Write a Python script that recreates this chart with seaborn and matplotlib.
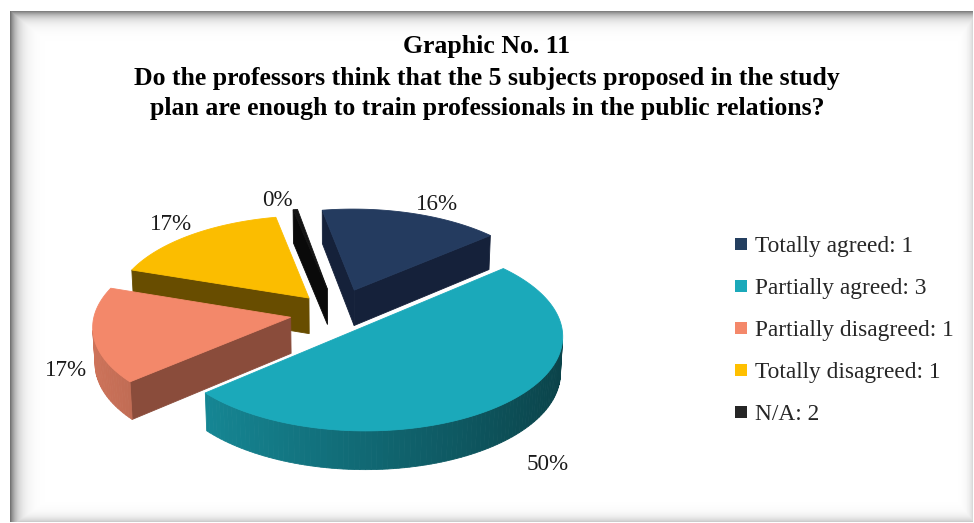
import numpy as np
import matplotlib
matplotlib.use("Agg")
import matplotlib.pyplot as plt
from matplotlib.lines import Line2D
import seaborn as sns

# ---- data -------------------------------------------------------------
categories = ["Totally agreed", "Partially agreed", "Partially disagreed",
              "Totally disagreed", "N/A"]
counts = [1, 3, 1, 1, 2]
shares = [16.4, 50.0, 16.6, 16.6, 0.4]          # percent of the pie
title_lines = [
    "Graphic No. 11",
    "Do the professors think that the 5 subjects proposed in the study",
    "plan are enough to train professionals in the public relations?",
]

# ---- style ------------------------------------------------------------
top_colors = ["#243B5F", "#1BA9BA", "#F3886A", "#FBBD00", "#141414"]
side_colors = ["#15213A", "#0F6B76", "#8A4C3B", "#684D00", "#0A0A0A"]
legend_colors = ["#243F60", "#1BA9BA", "#F4886A", "#FFC000", "#262626"]
explode = [0.27, 0.20, 0.24, 0.22, 0.27]

sns.set_theme(style="white")
plt.rcParams["font.family"] = ["Liberation Serif", "DejaVu Serif"]

W, H, DPI = 974, 523, 100
fig = plt.figure(figsize=(W / DPI, H / DPI), dpi=DPI)
fig.patch.set_facecolor("white")

# ---- framed background with soft inner shadow -------------------------
bg = fig.add_axes([0, 0, 1, 1])
bg.set_axis_off()
yy, xx = np.mgrid[0:H, 0:W].astype(float)
fx0, fy0, fx1, fy1 = 10, 11, 972, 521
inside = (xx >= fx0) & (xx <= fx1) & (yy >= fy0) & (yy <= fy1)
dark = np.maximum.reduce([
    0.55 * np.exp(-np.clip(xx - fx0, 0, None) / 7.0),
    0.50 * np.exp(-np.clip(yy - fy0, 0, None) / 6.0),
    0.15 * np.exp(-np.clip(fx1 - xx, 0, None) / 4.0),
    0.20 * np.exp(-np.clip(fy1 - yy, 0, None) / 5.0),
])
img = np.where(inside, 1 - dark, 1.0)
bg.imshow(img, cmap="gray", vmin=0, vmax=1, extent=(0, W, H, 0),
          interpolation="bilinear", aspect="auto")

# ---- 3D exploded pie ---------------------------------------------------
ax = fig.add_axes([0, 0, 1, 1], zorder=2)
ax.set_xlim(0, W)
ax.set_ylim(H, 0)
ax.set_axis_off()
ax.patch.set_alpha(0)

tilt = np.radians(28)
dist = 10.0
scale = 196
cx, cy = 337, 313
depth = 0.21
start = -10.0

cam = np.array([0.0, -dist * np.cos(tilt), dist * np.sin(tilt)])


def project(u, v, z):
    u, v, z = np.asarray(u), np.asarray(v), np.asarray(z)
    zc = dist + v * np.cos(tilt) - z * np.sin(tilt)
    sx = scale * dist * u / zc
    sy = scale * dist * (v * np.sin(tilt) + z * np.cos(tilt)) / zc
    return cx + sx, cy - sy


def visible(normal, point):
    return np.dot(normal, cam - point) > 0


def shade(color, nx):
    rgb = np.array(matplotlib.colors.to_rgb(color))
    f = np.clip(0.62 - 0.23 * nx, 0, 1)
    return tuple(rgb * f)


def fill3d(pts, color):
    pts = np.asarray(pts)
    xs, ys = project(pts[:, 0], pts[:, 1], pts[:, 2])
    ax.fill(xs, ys, color=color, ec=color, lw=0.6, antialiased=True)


total = sum(shares)
bounds = np.concatenate([[0], np.cumsum(shares)]) / total * 360 + start
slices = []
for i in range(len(shares)):
    a0, a1 = bounds[i], bounds[i + 1]
    m = np.radians((a0 + a1) / 2)
    off = np.array([explode[i] * np.sin(m), explode[i] * np.cos(m)])
    th = np.radians(np.linspace(a0, a1, max(3, int((a1 - a0) / 1.5) + 2)))
    rim_u = off[0] + np.sin(th)
    rim_v = off[1] + np.cos(th)
    centroid_v = off[1] + np.mean(np.cos(th)) * 0.6
    slices.append((centroid_v, i, a0, a1, off, th, rim_u, rim_v))

slices.sort(key=lambda s: -s[0])

for _, i, a0, a1, off, th, rim_u, rim_v in slices:
    faces = []
    apex = np.array([off[0], off[1]])
    # radial wall at the start angle
    t0 = np.radians(a0)
    n0 = np.array([-np.cos(t0), np.sin(t0), 0.0])
    p_rim0 = apex + [np.sin(t0), np.cos(t0)]
    quad0 = [[*apex, 0], [*p_rim0, 0], [*p_rim0, -depth], [*apex, -depth]]
    if visible(n0, np.mean(quad0, axis=0)):
        faces.append((quad0, side_colors[i]))
    # radial wall at the end angle
    t1 = np.radians(a1)
    n1 = np.array([np.cos(t1), -np.sin(t1), 0.0])
    p_rim1 = apex + [np.sin(t1), np.cos(t1)]
    quad1 = [[*apex, 0], [*p_rim1, 0], [*p_rim1, -depth], [*apex, -depth]]
    if visible(n1, np.mean(quad1, axis=0)):
        faces.append((quad1, side_colors[i]))
    # curved outer wall
    for k in range(len(th) - 1):
        tm = (th[k] + th[k + 1]) / 2
        nrm = np.array([np.sin(tm), np.cos(tm), 0.0])
        q = [[rim_u[k], rim_v[k], 0], [rim_u[k + 1], rim_v[k + 1], 0],
             [rim_u[k + 1], rim_v[k + 1], -depth], [rim_u[k], rim_v[k], -depth]]
        if visible(nrm, np.mean(q, axis=0)):
            faces.append((q, shade(top_colors[i], nrm[0])))
    for q, c in faces:
        fill3d(q, c)
    # top face
    top = [[*apex, 0]] + [[u, v, 0] for u, v in zip(rim_u, rim_v)]
    fill3d(top, top_colors[i])

# ---- percentage labels -------------------------------------------------
label_pos = [(437, 204), (548, 465), (66, 370), (171, 225), (277, 200)]
for s, (lx, ly) in zip(shares, label_pos):
    ax.text(lx, ly, f"{round(s)}%", ha="center", va="center",
            fontsize=16.6, color="#1a1a1a")

# ---- title -------------------------------------------------------------
for line, ty in zip(title_lines, [47, 79, 109]):
    ax.text(W / 2, ty, line, ha="center", va="center", fontsize=18.5,
            fontweight="bold", color="black")

# ---- legend ------------------------------------------------------------
handles = [Line2D([], [], ls="", marker="s", markersize=8.6, color=c,
                  markeredgewidth=0) for c in legend_colors]
labels = [f"{c}: {n}" for c, n in zip(categories, counts)]
fig.legend(handles, labels, loc="upper left",
           bbox_to_anchor=(733 / W, 1 - 236 / H), frameon=False,
           fontsize=16.8, handlelength=0.7, handletextpad=0.25,
           labelspacing=0.88, borderpad=0, borderaxespad=0)

fig.savefig("out.png", dpi=DPI, facecolor="white")
